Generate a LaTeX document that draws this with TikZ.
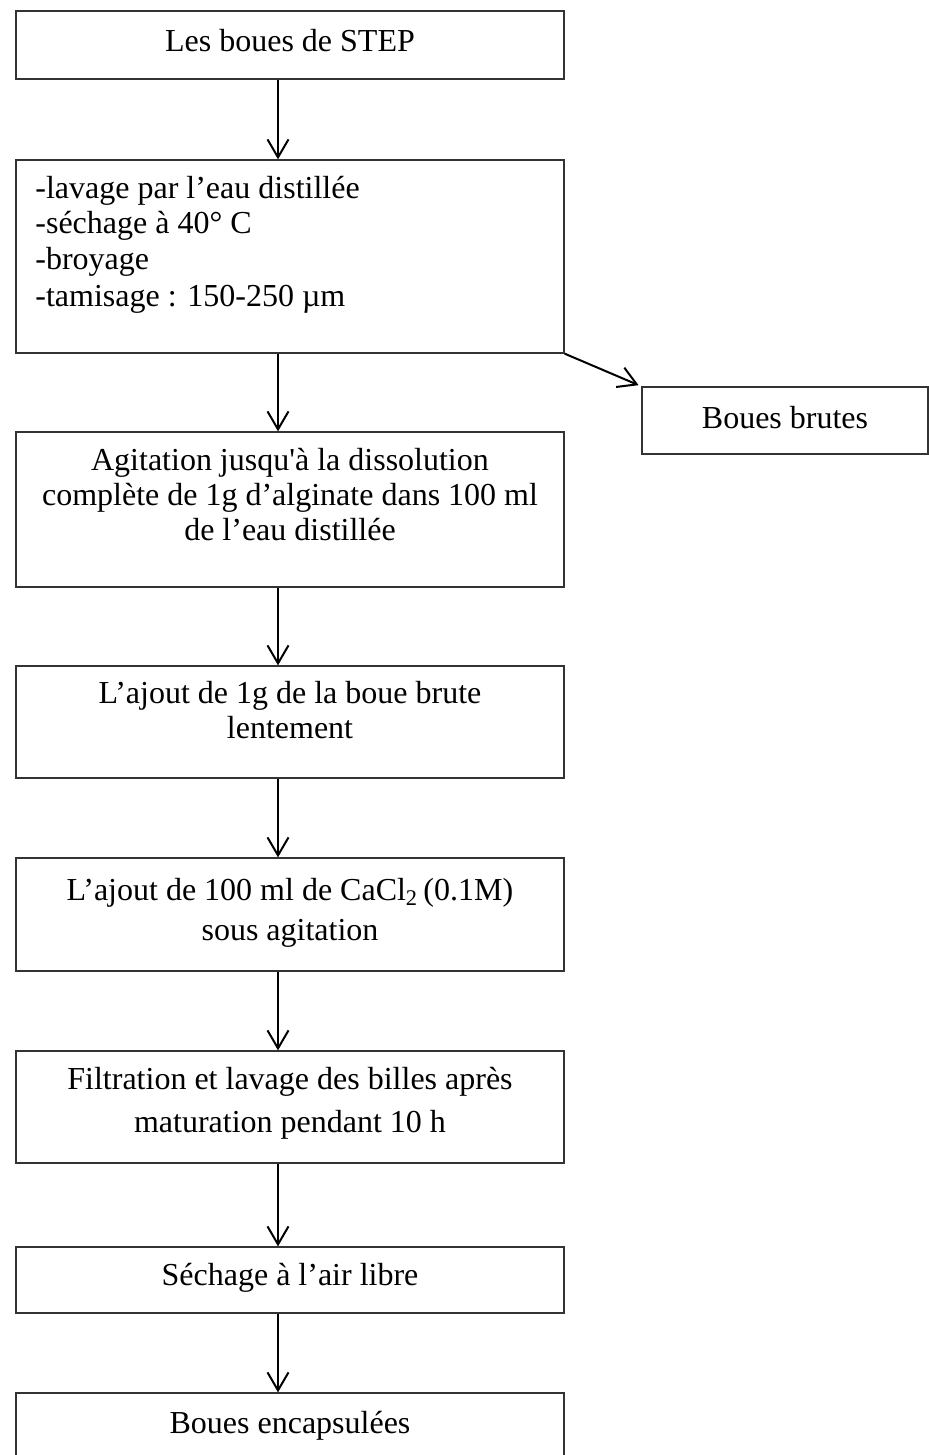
\documentclass[tikz,border=0pt]{standalone}
\usepackage{fontspec}
\setmainfont{Liberation Serif}[Ligatures=TeXOff]
\usetikzlibrary{arrows.meta}
\newcommand\hs{\rule{0pt}{12pt}}
\newcommand\ds{\rule[-5pt]{0pt}{5pt}}
\begin{document}
\begin{tikzpicture}[x=0.5pt,y=-0.5pt,
  box/.style={draw=black!80, line width=0.65pt, inner sep=0pt, minimum width=274pt},
  txt/.style={inner sep=0pt, align=center, font=\fontsize{16}{17.5}\selectfont},
  arr/.style={-{Straight Barb[length=9pt,width=10.5pt]}, line width=1pt, black}]
\clip (0,0) rectangle (929,1455);
\fill[white] (0,0) rectangle (929,1455);
\coordinate (ax) at (278,0);
% boxes
\node[box, minimum height=34pt]   (b1) at (290,45) {};
\node[box, minimum height=96.5pt] (b2) at (290,256.5) {};
\node[box, minimum height=77.5pt] (b3) at (290,509.5) {};
\node[box, minimum height=56pt]   (b4) at (290,722) {};
\node[box, minimum height=56.5pt] (b5) at (290,914.5) {};
\node[box, minimum height=56pt]   (b6) at (290,1107) {};
\node[box, minimum height=33pt]   (b7) at (290,1280) {};
\node[box, minimum height=34pt]   (b8) at (290,1427) {};
\node[box, minimum width=143pt, minimum height=33.5pt] (bb) at (785,420.5) {};
% texts
\node[txt, anchor=base] (t1) at (290,52) {Les boues de STEP};
\node[txt, anchor=west, align=left, font=\fontsize{16}{18}\selectfont] (t2) at (35,245)
  {\hs-lavage par l’eau distillée\\-séchage à 40° C\\-broyage\\-tamisage : 150-250 µm\ds};
\node[txt] (t3) at (290,498) {\hs Agitation jusqu'à la dissolution\\complète de 1g d’alginate dans 100 ml\\de l’eau distillée\ds};
\node[txt] (t4) at (290,713.5) {\hs L’ajout de 1g de la boue brute\\lentement\ds};
\node[txt, font=\fontsize{16}{20}\selectfont] (t5) at (290,913) {\hs L’ajout de 100 ml de CaCl\textsubscript{2}\,(0.1M)\\sous agitation\ds};
\node[txt, font=\fontsize{16}{21.5}\selectfont] (t6) at (290,1104) {\hs Filtration et lavage des billes après\\maturation pendant 10 h\ds};
\node[txt, anchor=base] (t7) at (290,1285) {Séchage à l’air libre};
\node[txt, anchor=base] (t8) at (290,1433) {Boues encapsulées};
\node[txt, anchor=base] (tbb) at (785,428) {Boues brutes};
% arrows
\draw[arr] (b1.south -| ax) -- (b2.north -| ax);
\draw[arr] (b2.south -| ax) -- (b3.north -| ax);
\draw[arr] (b3.south -| ax) -- (b4.north -| ax);
\draw[arr] (b4.south -| ax) -- (b5.north -| ax);
\draw[arr] (b5.south -| ax) -- (b6.north -| ax);
\draw[arr] (b6.south -| ax) -- (b7.north -| ax);
\draw[arr] (b7.south -| ax) -- (b8.north -| ax);
\draw[arr, shorten >=1.5pt] (b2.south east) -- (bb.north west);
\end{tikzpicture}
\end{document}
